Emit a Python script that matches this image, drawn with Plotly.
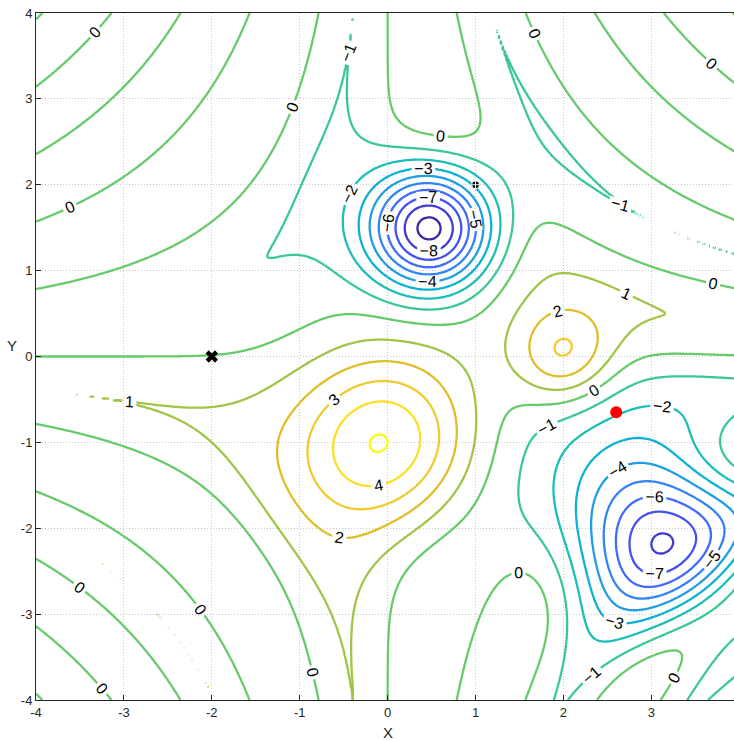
import numpy as np
import plotly.graph_objects as go

# Bump parameters (amplitude, centre x, centre y, width)
bump_amp = [-10.0, 5.0, 3.0, -8.0]
bump_x = [0.5, 0.0, 2.0, 3.0]
bump_y = [1.5, -1.0, 0.0, -2.0]
bump_w = [0.5, 1.0, 0.3, 1.0]

levels_start, levels_end, levels_step = -9, 5, 1
x_ticks = [-4, -3, -2, -1, 0, 1, 2, 3]
y_ticks = [-4, -3, -2, -1, 0, 1, 2, 3, 4]

marker_x = [-2.0]
marker_y = [0.0]
dot_x = [2.6]
dot_y = [-0.65]
small_x = [1.0]
small_y = [2.0]

xs = np.linspace(-4, 4, 361)
ys = np.linspace(-4, 4, 361)
X, Y = np.meshgrid(xs, ys)
Z = np.sin(X * Y)
for a, cx, cy, w in zip(bump_amp, bump_x, bump_y, bump_w):
    Z = Z + a * np.exp(-((X - cx) ** 2 + (Y - cy) ** 2) / w)
Z = np.round(Z, 5)

parula = [
    [0.0, "rgb(62,38,168)"],
    [0.111, "rgb(71,71,235)"],
    [0.222, "rgb(62,111,255)"],
    [0.333, "rgb(39,150,235)"],
    [0.444, "rgb(8,181,208)"],
    [0.556, "rgb(49,198,159)"],
    [0.667, "rgb(118,203,92)"],
    [0.778, "rgb(220,189,41)"],
    [0.889, "rgb(252,207,48)"],
    [1.0, "rgb(249,251,20)"],
]

fig = go.Figure()
fig.add_trace(go.Contour(
    x=xs, y=ys, z=Z,
    zmin=-9.3, zmax=5.15, zauto=False,
    colorscale=parula, showscale=False,
    contours=dict(start=levels_start, end=levels_end, size=levels_step,
                  coloring="lines", showlabels=True,
                  labelfont=dict(size=16, color="black", family="Liberation Sans")),
    line=dict(width=2.3, smoothing=0.8),
    hoverinfo="skip",
))
fig.add_trace(go.Scatter(x=marker_x, y=marker_y, mode="markers",
                         marker=dict(symbol="x", size=11, color="black"),
                         showlegend=False))
fig.add_trace(go.Scatter(x=dot_x, y=dot_y, mode="markers",
                         marker=dict(symbol="circle", size=12, color="red"),
                         showlegend=False))
fig.add_trace(go.Scatter(x=small_x, y=small_y, mode="markers",
                         marker=dict(symbol="circle-cross", size=8, color="black",
                                     line=dict(color="white", width=1)),
                         showlegend=False))

axis_common = dict(showgrid=True, gridcolor="#c8c8c8", griddash="1px,2px", gridwidth=1,
                   zeroline=False, showline=True, linecolor="#262626", linewidth=1,
                   mirror=True, ticks="inside", ticklen=5, tickcolor="#262626",
                   automargin=False,
                   tickfont=dict(family="Liberation Sans", size=13, color="#262626"))
fig.update_xaxes(range=[-4, 3.94], tickvals=x_ticks, ticktext=[str(v) for v in x_ticks],
                 **axis_common)
fig.update_yaxes(range=[-4, 4], tickvals=y_ticks, ticktext=[str(v) for v in y_ticks],
                 **axis_common)
fig.update_layout(
    width=734, height=740,
    margin=dict(l=36, r=0, t=13, b=40, autoexpand=False),
    plot_bgcolor="white", paper_bgcolor="white",
    showlegend=False,
    annotations=[
        dict(text="X", x=0, y=-4, xref="x", yref="y", yshift=-32, showarrow=False,
             xanchor="center", yanchor="middle",
             font=dict(family="Liberation Sans", size=15, color="#262626")),
        dict(text="Y", x=0, y=0.13, xref="paper", yref="y", xshift=-24, showarrow=False,
             xanchor="center", yanchor="middle",
             font=dict(family="Liberation Sans", size=15, color="#262626")),
    ],
)
fig.write_html("out.html", config={"displayModeBar": False},
               post_script="document.body.style.margin='0';document.body.style.overflow='hidden';")
